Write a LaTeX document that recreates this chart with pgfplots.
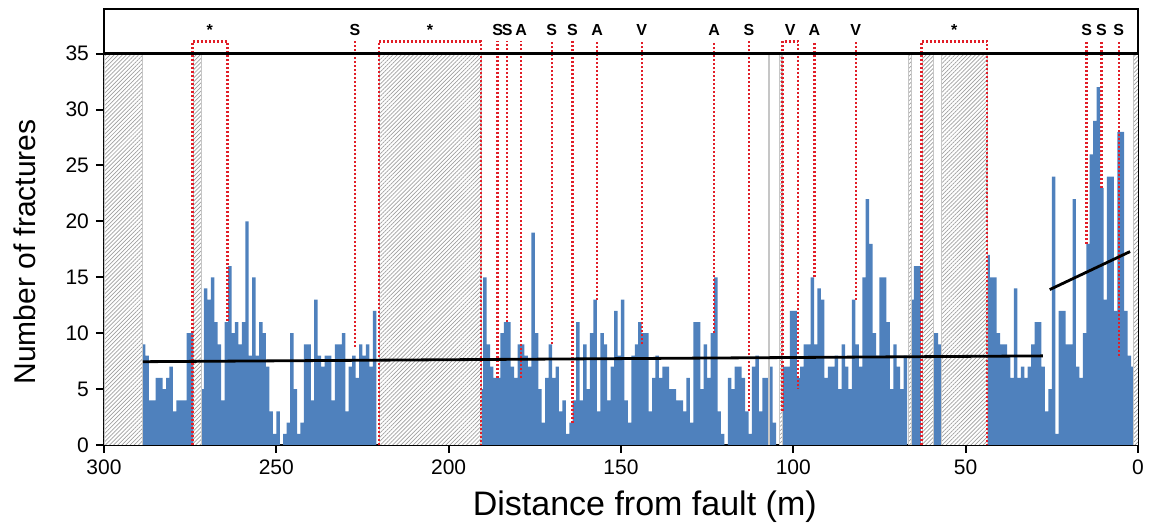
\documentclass[border=0pt]{standalone}
\usepackage{fontspec}
\setmainfont{Liberation Sans}
\usepackage{pgfplots}
\usepackage{pgfplotstable}
\pgfplotsset{compat=1.18}
\usetikzlibrary{patterns.meta,calc}

\definecolor{barblue}{RGB}{79,129,189}
\definecolor{markred}{RGB}{225,30,40}
\definecolor{hatchgray}{RGB}{160,160,160}

\tikzset{
  hatch/.style={draw=gray!45, line width=0.4pt, preaction={fill=white},
    pattern={Lines[angle=45,distance=1.45pt,line width=0.35pt]}, pattern color=hatchgray},
  redline/.style={markred, dash pattern=on 1pt off 1pt, line width=1.15pt},
  lab/.style={font=\fontsize{8}{9}\selectfont\bfseries},
}

% fracture counts per 1 m bin (bin centre, count)
\pgfplotstableread{
d n
288.5 9
287.5 8
286.5 4
285.5 4
284.5 6
283.5 6
282.5 5
281.5 6
280.5 7
279.5 3
278.5 4
277.5 4
276.5 4
275.5 10
274.5 10
271.5 5
270.5 14
269.5 13
268.5 15
267.5 11
266.5 9
265.5 4
264.5 11
263.5 16
262.5 10
261.5 11
260.5 9
259.5 11
258.5 20
257.5 8
256.5 15
255.5 8
254.5 11
253.5 10
252.5 7
251.5 3
250.5 1
249.5 3
248.5 0
247.5 1
246.5 2
245.5 10
244.5 5
243.5 1
242.5 2
241.5 9
240.5 9
239.5 4
238.5 13
237.5 8
236.5 7
235.5 8
234.5 8
233.5 4
232.5 9
231.5 9
230.5 10
229.5 3
228.5 7
227.5 8
226.5 6
225.5 9
224.5 8
223.5 9
222.5 7
221.5 12
190.5 5
189.5 15
188.5 9
187.5 7
186.5 6
185.5 6
184.5 10
183.5 11
182.5 11
181.5 7
180.5 6
179.5 9
178.5 9
177.5 8
176.5 7
175.5 19
174.5 10
173.5 5
172.5 2
171.5 6
170.5 9
169.5 6
168.5 7
167.5 3
166.5 4
165.5 1
164.5 2
163.5 4
162.5 11
161.5 4
160.5 9
159.5 5
158.5 10
157.5 13
156.5 3
155.5 10
154.5 9
153.5 4
152.5 7
151.5 12
150.5 8
149.5 13
148.5 4
147.5 2
146.5 8
145.5 9
144.5 11
143.5 10
142.5 10
141.5 3
140.5 6
139.5 8
138.5 6
137.5 7
136.5 7
135.5 5
134.5 5
133.5 4
132.5 4
131.5 3
130.5 6
129.5 2
128.5 11
127.5 11
126.5 5
125.5 9
124.5 6
123.5 10
122.5 15
121.5 3
120.5 1
119.5 0
118.5 6
117.5 5
116.5 7
115.5 7
114.5 6
113.5 3
112.5 1
111.5 7
110.5 8
109.5 3
108.5 6
107.5 6
106.5 7
105.5 2
103.5 5
102.5 7
101.5 7
100.5 12
99.5 12
98.5 6
97.5 7
96.5 9
95.5 9
94.5 15
93.5 9
92.5 14
91.5 13
90.5 6
89.5 7
88.5 7
87.5 8
86.5 5
85.5 9
84.5 7
83.5 5
82.5 13
81.5 9
80.5 7
79.5 15
78.5 22
77.5 18
76.5 10
75.5 8
74.5 15
73.5 15
72.5 11
71.5 5
70.5 9
69.5 7
68.5 5
67.5 8
65.5 13
64.5 16
63.5 16
59.5 10
58.5 10
57.5 9
43.5 17
42.5 15
41.5 15
40.5 10
39.5 9
38.5 9
37.5 8
36.5 6
35.5 14
34.5 6
33.5 7
32.5 6
31.5 7
30.5 9
29.5 11
28.5 11
27.5 7
26.5 3
25.5 5
24.5 24
23.5 1
22.5 12
21.5 12
20.5 9
19.5 9
18.5 22
17.5 7
16.5 6
15.5 10
14.5 18
13.5 26
12.5 29
11.5 32
10.5 23
9.5 13
8.5 24
7.5 24
6.5 12
5.5 28
4.5 28
3.5 12
2.5 8
1.5 7
}\bars

\begin{document}
\begin{tikzpicture}
\begin{axis}[
  width=517pt, height=218pt, scale only axis,
  x dir=reverse,
  xmin=0, xmax=300, ymin=0, ymax=39,
  xtick={0,50,...,300}, ytick={0,5,...,35},
  tick align=outside, xtick pos=bottom, ytick pos=left,
  major tick length=4pt,
  axis line style={line width=1pt},
  every tick/.style={black, line width=1pt},
  tick label style={font=\fontsize{10.5}{12}\selectfont},
  /pgf/number format/assume math mode=true,
  xlabel={Distance from fault (m)},
  ylabel={Number of fractures},
  every axis x label/.style={at={(axis description cs:0.523,-0.142)}, anchor=center,
    font=\fontsize{17}{20}\selectfont},
  every axis y label/.style={at={(axis description cs:-0.0764,0.443)}, anchor=center,
    rotate=90, font=\fontsize{15}{18}\selectfont},
]
\addplot[ybar, bar width=1, fill=barblue, draw=none] table[x=d,y=n] {\bars};

% unsampled intervals
\addplot[hatch] coordinates {(288.8,0) (300,0) (300,35) (288.8,35)} -- cycle;
\addplot[hatch] coordinates {(271.7,0) (274.1,0) (274.1,35) (271.7,35)} -- cycle;
\addplot[hatch] coordinates {(190.6,0) (220.2,0) (220.2,35) (190.6,35)} -- cycle;
\addplot[hatch] coordinates {(106.8,0) (107.3,0) (107.3,35) (106.8,35)} -- cycle;
\addplot[hatch] coordinates {(103.3,0) (104.1,0) (104.1,35) (103.3,35)} -- cycle;
\addplot[hatch] coordinates {(65.7,0) (66.7,0) (66.7,35) (65.7,35)} -- cycle;
\addplot[hatch] coordinates {(59.4,0) (62.5,0) (62.5,35) (59.4,35)} -- cycle;
\addplot[hatch] coordinates {(43.8,0) (57.0,0) (57.0,35) (43.8,35)} -- cycle;
\addplot[hatch] coordinates {(0,0) (1.4,0) (1.4,35) (0,35)} -- cycle;

% marker lines
\addplot[redline] coordinates {(274.3,0) (274.3,36.1) (264.2,36.1) (264.2,11)};
\addplot[redline] coordinates {(227.2,8.8) (227.2,36.1)};
\addplot[redline] coordinates {(220.2,0) (220.2,36.1) (190.6,36.1) (190.6,0)};
\addplot[redline] coordinates {(185.8,6) (185.8,36.1)};
\addplot[redline] coordinates {(183.0,11) (183.0,36.1)};
\addplot[redline] coordinates {(179.0,6) (179.0,36.1)};
\addplot[redline] coordinates {(170.1,9) (170.1,36.1)};
\addplot[redline] coordinates {(164.1,2) (164.1,36.1)};
\addplot[redline] coordinates {(156.9,13) (156.9,36.1)};
\addplot[redline] coordinates {(144.0,9) (144.0,36.1)};
\addplot[redline] coordinates {(123.0,10) (123.0,36.1)};
\addplot[redline] coordinates {(112.9,3) (112.9,36.1)};
\addplot[redline] coordinates {(103.1,3) (103.1,36.1) (98.6,36.1) (98.6,5)};
\addplot[redline] coordinates {(93.9,15) (93.9,36.1)};
\addplot[redline] coordinates {(81.9,13) (81.9,36.1)};
\addplot[redline] coordinates {(62.8,0) (62.8,36.1) (43.8,36.1) (43.8,0)};
\addplot[redline] coordinates {(14.9,18) (14.9,36.1)};
\addplot[redline] coordinates {(10.6,23) (10.6,36.1)};
\addplot[redline] coordinates {(5.6,8) (5.6,36.1)};

\node[lab] at (axis cs:269.3,37.1) {*};
\node[lab] at (axis cs:227.2,37.1) {S};
\node[lab] at (axis cs:205.4,37.1) {*};
\node[lab] at (axis cs:185.8,37.1) {S};
\node[lab] at (axis cs:183.0,37.1) {S};
\node[lab] at (axis cs:179.0,37.1) {A};
\node[lab] at (axis cs:170.1,37.1) {S};
\node[lab] at (axis cs:164.1,37.1) {S};
\node[lab] at (axis cs:156.9,37.1) {A};
\node[lab] at (axis cs:144.0,37.1) {V};
\node[lab] at (axis cs:123.0,37.1) {A};
\node[lab] at (axis cs:112.9,37.1) {S};
\node[lab] at (axis cs:100.9,37.1) {V};
\node[lab] at (axis cs:93.9,37.1) {A};
\node[lab] at (axis cs:81.9,37.1) {V};
\node[lab] at (axis cs:53.3,37.1) {*};
\node[lab] at (axis cs:14.9,37.1) {S};
\node[lab] at (axis cs:10.6,37.1) {S};
\node[lab] at (axis cs:5.6,37.1) {S};

% reference level and trends
\addplot[black, line width=1.3pt] coordinates {(0,35) (300,35)};
\addplot[black, line width=1.4pt] coordinates {(288.7,7.45) (27.6,7.97)};
\addplot[black, line width=1.4pt] coordinates {(25.6,13.9) (2.3,17.3)};
\end{axis}
\pgfresetboundingbox
\path ($(current axis.south west)+(-52pt,-42.5pt)$) rectangle ($(current axis.north east)+(6pt,4.5pt)$);
\end{tikzpicture}
\end{document}
